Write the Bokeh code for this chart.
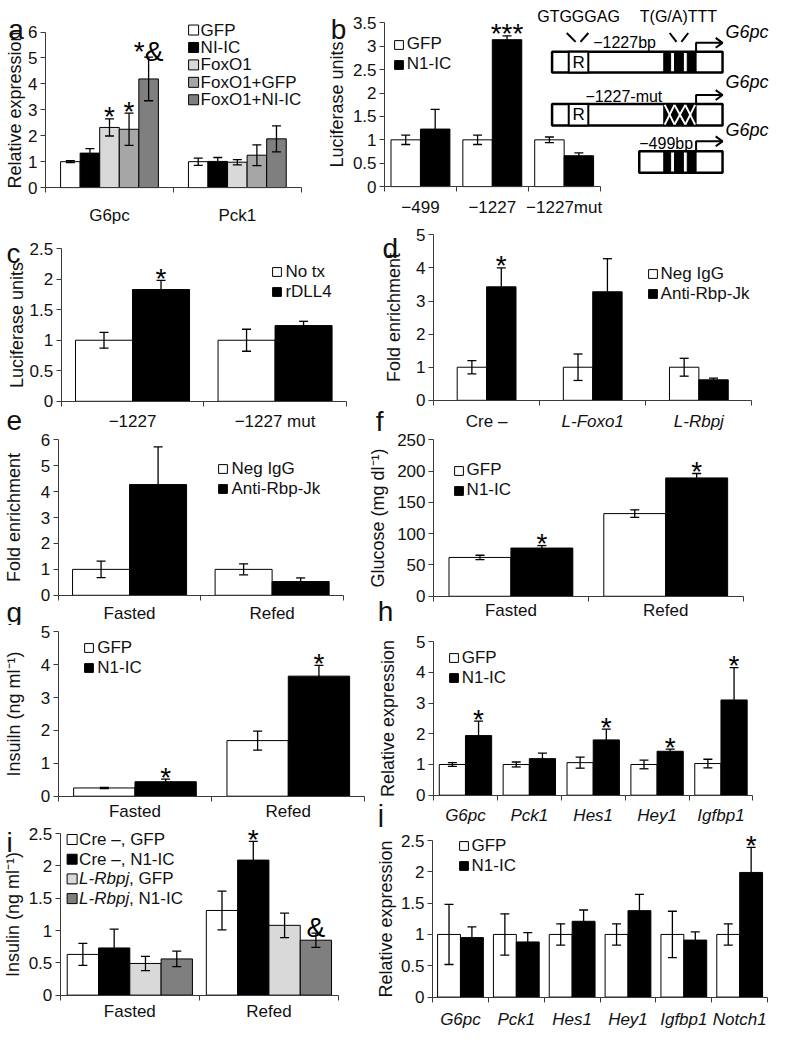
from bokeh.plotting import figure
from bokeh.models import (Range1d, FixedTicker, LinearAxis, Legend, LegendItem, Whisker,
                          ColumnDataSource, NumeralTickFormatter)
from bokeh.layouts import column, row
from bokeh.embed import file_html
from bokeh.resources import INLINE
from bokeh.core.properties import value

FONT = "Liberation Sans"
AXC = "#3a3a3a"
TXT = "#111111"
WHITE, BLACK = "#ffffff", "#000000"
LGREY, MGREY, DGREY = "#d9d9d9", "#a6a6a6", "#7f7f7f"

# ---------------- data ----------------
a_cats = ["G6pc", "Pck1"]
a_names = ["GFP", "NI-IC", "FoxO1", "FoxO1+GFP", "FoxO1+NI-IC"]
a_gfp = [1.00, 1.00]; a_gfp_err = [0.04, 0.14]
a_nic = [1.33, 1.01]; a_nic_err = [0.17, 0.15]
a_fox = [2.32, 0.98]; a_fox_err = [0.33, 0.10]
a_foxgfp = [2.25, 1.25]; a_foxgfp_err = [0.62, 0.40]
a_foxnic = [4.19, 1.88]; a_foxnic_err = [0.84, 0.50]
a_marks = [["", ""], ["", ""], ["*", ""], ["*", ""], ["*&", ""]]

b_cats = ["\u2212499", "\u22121227", "\u22121227mut"]
b_names = ["GFP", "N1-IC"]
b_gfp = [1.00, 1.00, 1.00]; b_gfp_err = [0.10, 0.10, 0.06]
b_n1 = [1.23, 3.14, 0.66]; b_n1_err = [0.42, 0.08, 0.06]
b_marks = [["", "", ""], ["", "***", ""]]

c_cats = ["\u22121227", "\u22121227 mut"]
c_names = ["No tx", "rDLL4"]
c_notx = [1.00, 1.00]; c_notx_err = [0.13, 0.18]
c_rdll4 = [1.83, 1.24]; c_rdll4_err = [0.15, 0.07]
c_marks = [["", ""], ["*", ""]]

d_cats = ["Cre \u2013", "L-Foxo1", "L-Rbpj"]
d_names = ["Neg IgG", "Anti-Rbp-Jk"]
d_igg = [1.00, 1.00, 1.00]; d_igg_err = [0.20, 0.40, 0.27]
d_anti = [3.43, 3.28, 0.62]; d_anti_err = [0.57, 1.00, 0.05]
d_marks = [["", "", ""], ["*", "", ""]]

e_cats = ["Fasted", "Refed"]
e_names = ["Neg IgG", "Anti-Rbp-Jk"]
e_igg = [1.00, 1.00]; e_igg_err = [0.32, 0.21]
e_anti = [4.27, 0.53]; e_anti_err = [1.45, 0.14]

f_cats = ["Fasted", "Refed"]
f_names = ["GFP", "N1-IC"]
f_gfp = [62, 132]; f_gfp_err = [3.5, 6]
f_n1 = [77, 189]; f_n1_err = [4, 7]
f_marks = [["", ""], ["*", "*"]]

g_cats = ["Fasted", "Refed"]
g_names = ["GFP", "N1-IC"]
g_gfp = [0.25, 1.69]; g_gfp_err = [0.02, 0.29]
g_n1 = [0.44, 3.65]; g_n1_err = [0.08, 0.33]
g_marks = [["", ""], ["*", "*"]]

h_cats = ["G6pc", "Pck1", "Hes1", "Hey1", "Igfbp1"]
h_names = ["GFP", "N1-IC"]
h_gfp = [1.00, 1.00, 1.06, 1.00, 1.03]; h_gfp_err = [0.06, 0.08, 0.18, 0.14, 0.14]
h_n1 = [1.94, 1.19, 1.80, 1.43, 3.10]; h_n1_err = [0.47, 0.18, 0.35, 0.07, 1.05]
h_marks = [["", "", "", "", ""], ["*", "", "*", "*", "*"]]

i_cats = ["Fasted", "Refed"]
i_names = ["Cre \u2013, GFP", "Cre \u2013, N1-IC", "L-Rbpj, GFP", "L-Rbpj, N1-IC"]
i_cre_gfp = [0.63, 1.31]; i_cre_gfp_err = [0.17, 0.30]
i_cre_n1 = [0.73, 2.09]; i_cre_n1_err = [0.29, 0.29]
i_l_gfp = [0.49, 1.08]; i_l_gfp_err = [0.11, 0.19]
i_l_n1 = [0.56, 0.85]; i_l_n1_err = [0.12, 0.11]
i_marks = [["", ""], ["", "*"], ["", ""], ["", "&"]]

j_cats = ["G6pc", "Pck1", "Hes1", "Hey1", "Igfbp1", "Notch1"]
j_names = ["GFP", "N1-IC"]
j_gfp = [1.00, 1.00, 1.00, 1.00, 1.00, 1.00]; j_gfp_err = [0.48, 0.33, 0.17, 0.17, 0.37, 0.17]
j_n1 = [0.95, 0.88, 1.21, 1.38, 0.91, 1.99]; j_n1_err = [0.17, 0.15, 0.18, 0.26, 0.13, 0.40]
j_marks = [["", "", "", "", "", ""], ["", "", "", "", "", "*"]]

# schematic labels (panel b)
b_motifs = ["GTGGGAG", "T(G/A)TTT"]
b_constructs = ["\u22121227bp", "\u22121227-mut", "\u2212499bp"]
b_gene = "G6pc"

# ---------------- geometry helpers (reference pixels -> layout pixels) ----------------
SX = 772 / 788
SY = 1034 / 1050


def X(v):
    return v * SX


def Y(v):
    return v * SY


def box(x0, y0, x1, y1):
    return (round(X(x0)), round(Y(y0)), round(X(x1)), round(Y(y1)))


def style_axis(ax):
    ax.axis_line_color = AXC
    ax.axis_line_width = 1
    ax.major_tick_line_color = AXC
    ax.minor_tick_line_color = AXC
    ax.major_label_text_font = FONT
    ax.major_label_text_font_size = "17px"
    ax.major_label_text_color = TXT
    ax.axis_label_text_font = FONT
    ax.axis_label_text_font_size = "18px"
    ax.axis_label_text_font_style = "normal"
    ax.axis_label_text_color = TXT


PX = dict(x_range_name="px", y_range_name="px")
ITEM_H = 20.5


def add_letters(p, letters):
    for (t, x, y) in letters:
        p.text(x=[X(x)], y=[Y(y)], text=[t], text_font=value(FONT), text_font_size="28px",
               text_color=TXT, text_baseline="alphabetic", text_align="left", **PX)


def manual_legend(p, swl, c1, pitch, names, colors):
    """Compact legend (tighter than Bokeh's minimum row height), partly italic labels."""
    for k, (nm, col) in enumerate(zip(names, colors)):
        cy = Y(c1 + k * pitch)
        x0 = X(swl)
        p.quad(left=[x0], right=[x0 + 10], top=[cy - 5], bottom=[cy + 5], fill_color=col,
               line_color="black", line_width=1, **PX)
        tx = x0 + 12
        if nm.startswith("L-") and "," in nm:
            head, tail = nm.split(",", 1)
            p.text(x=[tx], y=[cy], text=[head], text_font=value(FONT), text_font_size="17px",
                   text_font_style="italic", text_color=TXT, text_baseline="middle", **PX)
            p.text(x=[tx + 50], y=[cy], text=["," + tail], text_font=value(FONT),
                   text_font_size="17px", text_color=TXT, text_baseline="middle", **PX)
        else:
            p.text(x=[tx], y=[cy], text=[nm], text_font=value(FONT), text_font_size="17px",
                   text_color=TXT, text_baseline="middle", **PX)


def bar_panel(fbox, frame, cats, names, vals, errs, marks, colors,
              ymax, ystep, ylabel, bar_w, leg, ylab_so, xlab_so,
              italic=False, label_idx=None, compact_pitch=None):
    fx0, fy0, fx1, fy1 = fbox
    w, h = fx1 - fx0, fy1 - fy0
    xL, xR, yT, yB = X(frame[0]), X(frame[1]), Y(frame[2]), Y(frame[3])
    n, m = len(cats), len(names)
    ppx = (xR - xL) / n
    ppy = (yB - yT) / ymax
    p = figure(width=w, height=h, title=None,
               x_range=Range1d((fx0 - xL) / ppx, (fx1 - xL) / ppx),
               y_range=Range1d(-(fy1 - yB) / ppy, (yB - fy0) / ppy),
               x_axis_type=None, y_axis_type=None, output_backend="svg",
               toolbar_location=None, min_border_left=0, min_border_right=0,
               min_border_top=0, min_border_bottom=0)
    p.outline_line_color = None
    p.background_fill_color = "white"
    p.border_fill_color = "white"
    p.extra_x_ranges = {"px": Range1d(fx0, fx1)}
    p.extra_y_ranges = {"px": Range1d(fy1, fy0)}

    nt = int(round(ymax / ystep))
    yax = LinearAxis(ticker=FixedTicker(ticks=[k * ystep for k in range(nt + 1)]),
                     formatter=NumeralTickFormatter(format="0.[0]"),
                     axis_label=ylabel, bounds=(0, ymax), fixed_location=0)
    style_axis(yax)
    yax.major_tick_out = 5
    yax.major_tick_in = 0
    yax.minor_tick_out = 0
    yax.minor_tick_in = 0
    yax.major_label_standoff = 3
    yax.axis_label_standoff = ylab_so
    p.add_layout(yax, "left")

    idx = list(range(n)) if label_idx is None else label_idx
    xax = LinearAxis(ticker=FixedTicker(ticks=[i + 0.5 for i in idx],
                                        minor_ticks=list(range(n + 1))),
                     major_label_overrides={i + 0.5: cats[i] for i in idx},
                     bounds=(0, n), fixed_location=0)
    style_axis(xax)
    xax.major_tick_out = 0
    xax.major_tick_in = 0
    xax.minor_tick_out = 5
    xax.minor_tick_in = 0
    xax.major_label_standoff = xlab_so
    if italic:
        xax.major_label_text_font_style = "italic"
    p.add_layout(xax, "below")

    off0 = -(m - 1) / 2 * bar_w
    rends = []
    for k in range(m):
        v, e = vals[k], errs[k]
        mk = marks[k] if marks else [""] * n
        src = ColumnDataSource(dict(
            x=[i + 0.5 + off0 + k * bar_w for i in range(n)],
            top=v,
            up=[a + b for a, b in zip(v, e)],
            lo=[a - b for a, b in zip(v, e)],
            mk=mk,
            yo=[-6 if "&" in s else -2 for s in mk]))
        r = p.vbar(x="x", top="top", bottom=0, width=bar_w, source=src,
                   fill_color=colors[k], line_color="black", line_width=1)
        rends.append(r)
        wh = Whisker(source=src, base="x", upper="up", lower="lo", dimension="height",
                     line_color="black", line_width=1.3, level="overlay")
        wh.upper_head.size = 9
        wh.lower_head.size = 9
        wh.upper_head.line_width = 1.3
        wh.lower_head.line_width = 1.3
        p.add_layout(wh)
        if any(mk):
            p.text(x="x", y="up", text="mk", source=src, text_font=value(FONT),
                   text_font_size="28px", text_align="center", text_baseline="alphabetic",
                   y_offset="yo", text_color="black")

    swl, c1 = leg
    if compact_pitch:
        manual_legend(p, swl, c1, compact_pitch, names, colors)
    else:
        top = Y(c1) - ITEM_H / 2
        bottom = top + m * ITEM_H
        legend = Legend(items=[LegendItem(label=nm, renderers=[r]) for nm, r in zip(names, rends)],
                        location=(X(swl) - fx0, fy1 - bottom), orientation="vertical",
                        spacing=0, padding=0, margin=0,
                        glyph_width=11, glyph_height=11, label_standoff=3, label_height=17,
                        label_width=10, border_line_color=None, background_fill_alpha=0,
                        label_text_font=FONT, label_text_font_size="17px", label_text_color=TXT)
        p.add_layout(legend)
    return p


# ---------------- figure boxes (reference pixel boundaries) ----------------
R1, R2, LC, RC = 230, 440, 374, 788
L3, L4 = 635, 836          # left column: e|g and g|i
RT3, RT4 = 632, 840        # right column: f|h and h|j

pa = bar_panel(box(0, 0, 330, R1), (46, 307, 32, 190), a_cats, a_names,
               [a_gfp, a_nic, a_fox, a_foxgfp, a_foxnic],
               [a_gfp_err, a_nic_err, a_fox_err, a_foxgfp_err, a_foxnic_err], a_marks,
               [WHITE, BLACK, LGREY, MGREY, DGREY], 6, 1, "Relative expression",
               0.153, (192, 30), 0, 13, compact_pitch=17.7)
add_letters(pa, [("a", 8, 29)])

pb = bar_panel(box(330, 0, RC, R1), (392, 612, 22.7, 189), b_cats, b_names, [b_gfp, b_n1],
               [b_gfp_err, b_n1_err], b_marks, [WHITE, BLACK], 3.5, 0.5, "Luciferase units",
               0.41, (401, 44), 3, 6)
add_letters(pb, [("b", 337, 29)])

# schematic of the G6pc promoter constructs (reference-pixel coordinates)
dx = -5


def DX(vals):
    return [X(v + dx) for v in vals]


def DY(vals):
    return [Y(v) for v in vals]


pb.quad(left=DX([568, 568, 657]), right=DX([742] * 3), top=DY([52, 105, 153]),
        bottom=DY([73, 127, 175]), fill_color="white", line_color="black", line_width=2.5, **PX)
pb.quad(left=DX([585] * 2), right=DX([605] * 2), top=DY([52, 105]), bottom=DY([73, 127]),
        fill_color="white", line_color="black", line_width=2, **PX)
pb.text(x=DX([595] * 2), y=DY([63, 116]), text=["R", "R"], text_font=value(FONT),
        text_font_size="17px", text_align="center", text_baseline="middle", **PX)
blk_l, blk_r, blk_t, blk_b = [], [], [], []
for (t, bt) in [(52, 73), (153, 175)]:
    for (l, r) in [(682, 689), (693, 702), (706, 715)]:
        blk_l.append(l); blk_r.append(r); blk_t.append(t); blk_b.append(bt)
pb.quad(left=DX(blk_l), right=DX(blk_r), top=DY(blk_t), bottom=DY(blk_b), fill_color="black",
        line_color="black", line_width=1, **PX)
pb.quad(left=DX([682]), right=DX([715]), top=DY([105]), bottom=DY([127]), fill_color="black",
        line_color="black", line_width=1, **PX)
xs_m, ys_m = [], []
for (l, r) in [(683, 693), (693, 704), (704, 714)]:
    xs_m += [DX([l, r]), DX([l, r])]
    ys_m += [DY([106, 126]), DY([126, 106])]
pb.multi_line(xs=xs_m, ys=ys_m, line_color="white", line_width=2, **PX)
ar_x, ar_y = [], []
for (bt, ya) in [(52, 43), (105, 96), (153, 143)]:
    ar_x += [DX([715, 715, 742]), DX([735, 742, 735])]
    ar_y += [DY([bt, ya, ya]), DY([ya - 5, ya, ya + 5])]
pb.multi_line(xs=ar_x, ys=ar_y, line_color="black", line_width=2, **PX)
pb.multi_line(xs=[DX([583, 592]), DX([605, 597]), DX([688, 695]), DX([707, 700])],
              ys=[DY([33, 42])] * 4, line_color="black", line_width=2, **PX)
pb.text(x=DX([595, 697]), y=DY([16, 16]), text=b_motifs, text_font=value(FONT),
        text_font_size="16px", text_align="center", text_baseline="middle", **PX)
pb.text(x=DX([610, 602, 657]), y=DY([43, 97, 145]), text=b_constructs,
        text_font=value(FONT), text_font_size="16px", text_align="left",
        text_baseline="middle", **PX)
pb.text(x=DX([745] * 3), y=DY([32, 83, 132]), text=[b_gene] * 3, text_font=value(FONT),
        text_font_size="18px", text_font_style="italic", text_align="left",
        text_baseline="middle", **PX)

pc = bar_panel(box(0, R1, LC, R2), (62, 353, 252, 407), c_cats, c_names, [c_notx, c_rdll4],
               [c_notx_err, c_rdll4_err], c_marks, [WHITE, BLACK], 2.5, 0.5,
               "Luciferase units", 0.40, (277, 275), 0, 6)
add_letters(pc, [("c", 6, 257), ("e", 6, 427)])

pd = bar_panel(box(LC, R1, RC, R2), (442, 767, 238, 406), d_cats, d_names, [d_igg, d_anti],
               [d_igg_err, d_anti_err], d_marks, [WHITE, BLACK], 5, 1, "Fold enrichment",
               0.277, (660, 277), 9, 7, label_idx=[0])
pd.text(x=[1.5, 2.5], y=[Y(406) + 5 + 7] * 2, text=d_cats[1:], text_font=value(FONT),
        text_font_size="17px", text_font_style="italic", text_align="center",
        text_baseline="top", text_color=TXT, y_range_name="px")
add_letters(pd, [("d", 390, 252), ("f", 383, 428)])

pe = bar_panel(box(0, R2, LC, L3), (59, 350, 446, 604), e_cats, e_names, [e_igg, e_anti],
               [e_igg_err, e_anti_err], None, [WHITE, BLACK], 6, 1, "Fold enrichment",
               0.40, (222, 475), 14, 4)
add_letters(pe, [("g", 6, 621)])

pf = bar_panel(box(LC, R2, RC, RT3), (442, 758, 446, 605), f_cats, f_names, [f_gfp, f_n1],
               [f_gfp_err, f_n1_err], f_marks, [WHITE, BLACK], 250, 50,
               "Glucose (mg dl\u207b\u00b9)", 0.40, (462, 477), 6, 0)
add_letters(pf, [("h", 385, 620)])

pg = bar_panel(box(0, L3, LC, L4), (59, 372, 641, 808), g_cats, g_names, [g_gfp, g_n1],
               [g_gfp_err, g_n1_err], g_marks, [WHITE, BLACK], 5, 1,
               "Insuiln (ng ml\u207b\u00b9)", 0.40, (85, 657), 14, 1)

ph = bar_panel(box(LC, RT3, RC, RT4), (442, 768, 651, 807), h_cats, h_names, [h_gfp, h_n1],
               [h_gfp_err, h_n1_err], h_marks, [WHITE, BLACK], 5, 1, "Relative expression",
               0.41, (457, 667), 15, 6, italic=True)
add_letters(ph, [("j", 385, 827)])

pi = bar_panel(box(0, L4, LC, 1050), (61, 345, 846, 1010), i_cats, i_names,
               [i_cre_gfp, i_cre_n1, i_l_gfp, i_l_n1],
               [i_cre_gfp_err, i_cre_n1_err, i_l_gfp_err, i_l_n1_err], i_marks,
               [WHITE, BLACK, LGREY, DGREY], 2.5, 0.5, "Insulin (ng ml\u207b\u00b9)",
               0.225, (68, 852), 3, 2, compact_pitch=20)
add_letters(pi, [("i", 6, 855)])

pj = bar_panel(box(LC, RT4, RC, 1050), (441, 783, 853, 1012), j_cats, j_names, [j_gfp, j_n1],
               [j_gfp_err, j_n1_err], j_marks, [WHITE, BLACK], 2.5, 0.5, "Relative expression",
               0.41, (467, 858), 2, 8, italic=True)

layout = column(row(pa, pb),
                row(column(pc, pe, pg, pi), column(pd, pf, ph, pj)))

open("out.html", "w").write(file_html(layout, INLINE))
